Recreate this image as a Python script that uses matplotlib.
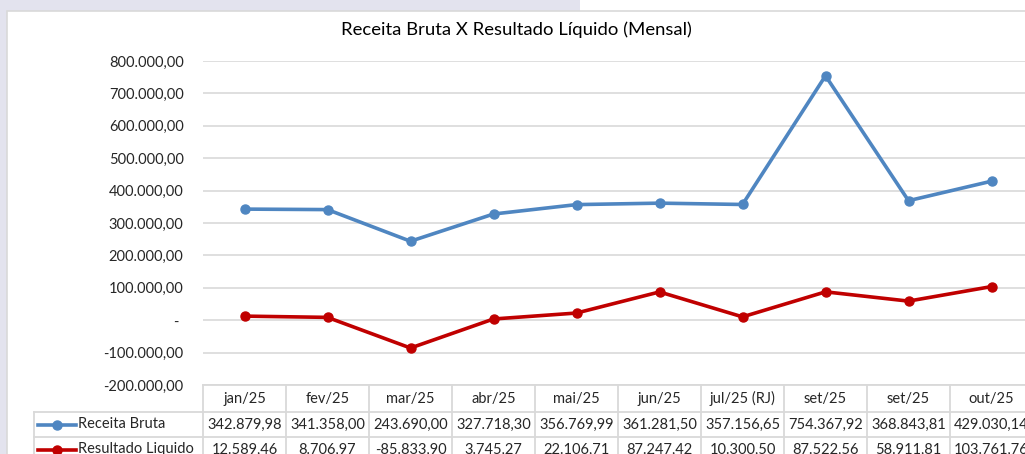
import matplotlib.pyplot as plt
from matplotlib.transforms import blended_transform_factory
from matplotlib.patches import Rectangle
from matplotlib.lines import Line2D

meses = ['jan/25', 'fev/25', 'mar/25', 'abr/25', 'mai/25', 'jun/25',
         'jul/25 (RJ)', 'set/25', 'set/25', 'out/25']
receita_bruta = [342879.98, 341358.00, 243690.00, 327718.30, 356769.99,
                 361281.50, 357156.65, 754367.92, 368843.81, 429030.14]
resultado_liquido = [12589.46, 8706.97, -85833.90, 3745.27, 22106.71,
                     87247.42, 10300.50, 87522.56, 58911.81, 103761.76]
y_ticks = [-200000, -100000, 0, 100000, 200000, 300000, 400000,
           500000, 600000, 700000, 800000]

plt.rcParams['font.family'] = ['Lato', 'DejaVu Sans']

W, H = 1025, 454
AZUL = '#4f86c1'
VERMELHO = '#c00000'
CINZA = '#d9d9d9'
TEXTO = '#262626'


def fy(px):
    return 1 - px / H


def fx(px):
    return px / W


def br(v):
    # formato brasileiro 1.234,56
    s = f'{abs(v):,.2f}'.replace(',', 'X').replace('.', ',').replace('X', '.')
    return ('-' if v < 0 else '') + s


fig = plt.figure(figsize=(W / 100, H / 100), dpi=100)
fig.patch.set_facecolor('white')

# fundo lavanda e area do grafico
fig.add_artist(Rectangle((0, fy(11)), fx(580), 1 - fy(11), transform=fig.transFigure,
                         facecolor='#e3e3ee', edgecolor='none', zorder=0))
fig.add_artist(Rectangle((0, 0), fx(7), 1, transform=fig.transFigure,
                         facecolor='#e3e3ee', edgecolor='none', zorder=0))
fig.add_artist(Rectangle((fx(7), -0.1), 1.1, fy(11) + 0.1, transform=fig.transFigure,
                         facecolor='white', edgecolor=CINZA, lw=1.2, zorder=0))

left, right, top, bottom = 203, 1033, 61, 385
ax = fig.add_axes([fx(left), fy(bottom), (right - left) / W, (bottom - top) / H])
ax.set_facecolor('none')

x = list(range(len(meses)))
ax.plot(x, receita_bruta, color=AZUL, lw=2.6, marker='o', ms=6.5, zorder=3)
ax.plot(x, resultado_liquido, color=VERMELHO, lw=2.6, marker='o', ms=6.5, zorder=3)

ax.set_xlim(-0.5, len(meses) - 0.5)
ax.set_ylim(-200000, 800000)
ax.set_yticks(y_ticks)
ax.set_yticklabels([br(v) if v != 0 else '- ' for v in y_ticks])
ax.tick_params(axis='y', length=0, pad=14, labelsize=10.5, labelcolor=TEXTO)
ax.set_xticks([])
ax.grid(axis='y', color=CINZA, lw=1.2)
for s in ax.spines.values():
    s.set_visible(False)

fig.text(0.504, fy(30), 'Receita Bruta X Resultado Líquido (Mensal)',
         ha='center', va='center', fontsize=13.3, color='black')

# tabela de dados
tr = blended_transform_factory(ax.transData, fig.transFigure)
n = len(meses)
y_hdr, y_r1, y_r2, y_r3 = 385, 412, 437, 462
kw = dict(color=CINZA, lw=1.3, clip_on=False, zorder=2)
ax.plot([-0.5, n - 0.5], [fy(y_hdr)] * 2, transform=tr, **kw)
for yy in (y_r1, y_r2, y_r3):
    fig.add_artist(Line2D([fx(34), 1.2], [fy(yy)] * 2, transform=fig.transFigure, **kw))
for i in range(n + 1):
    ax.plot([i - 0.5] * 2, [fy(y_hdr), fy(y_r3)], transform=tr, **kw)
fig.add_artist(Line2D([fx(34)] * 2, [fy(y_r1), fy(y_r3)], transform=fig.transFigure, **kw))

for i, m in enumerate(meses):
    ax.text(i, fy((y_hdr + y_r1) / 2), m, transform=tr, ha='center', va='center',
            fontsize=10.5, color=TEXTO, clip_on=False)
    ax.text(i, fy((y_r1 + y_r2) / 2), br(receita_bruta[i]), transform=tr,
            ha='center', va='center', fontsize=10.5, color=TEXTO, clip_on=False)
    ax.text(i, fy((y_r2 + y_r3) / 2), br(resultado_liquido[i]), transform=tr,
            ha='center', va='center', fontsize=10.5, color=TEXTO, clip_on=False)

for (ya, yb), cor, nome in [((y_r1, y_r2), AZUL, 'Receita Bruta'),
                            ((y_r2, y_r3), VERMELHO, 'Resultado Liquido')]:
    ym = fy((ya + yb) / 2)
    fig.add_artist(Line2D([fx(38), fx(76)], [ym, ym], transform=fig.transFigure,
                          color=cor, lw=2.6))
    fig.add_artist(Line2D([fx(57)], [ym], transform=fig.transFigure, color=cor,
                          marker='o', ms=6.5))
    fig.text(fx(78), ym, nome, ha='left', va='center', fontsize=10.5, color=TEXTO)

fig.savefig('out.png', dpi=100)
